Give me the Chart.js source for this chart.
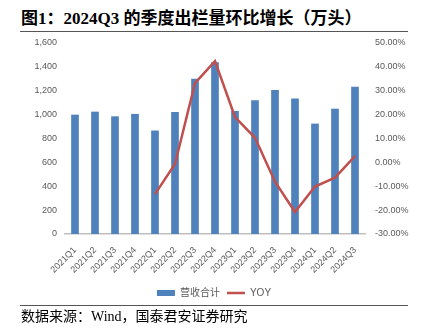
<!DOCTYPE html>
<html>
<head>
<meta charset="utf-8">
<script src="https://cdn.jsdelivr.net/npm/chart.js@4"></script>
<style>
  body { margin: 0; background: #fff; }
  #wrap { position: relative; width: 428px; height: 336px; overflow: hidden; }
  #title { position: absolute; left: 21px; top: 4px; font: bold 17px "Liberation Serif", "Noto Sans CJK SC", serif; color: #000; white-space: nowrap; }
  #src { position: absolute; left: 21px; top: 305px; font: 14px "Liberation Serif", "Noto Sans CJK SC", serif; color: #000; white-space: nowrap; }
  .rule { position: absolute; left: 20px; width: 388px; height: 1px; background: #555; }
  canvas { position: absolute; left: 0; top: 0; }
</style>
</head>
<body>
<div id="wrap">
  <div id="title">图1：2024Q3 的季度出栏量环比增长（万头）</div>
  <div class="rule" style="top:31px"></div>
  <canvas id="c" width="428" height="336"></canvas>
  <div class="rule" style="top:305px"></div>
  <div id="src">数据来源：Wind，国泰君安证券研究</div>
</div>
<script>
const quarters = ["2021Q1", "2021Q2", "2021Q3", "2021Q4", "2022Q1", "2022Q2", "2022Q3", "2022Q4",
  "2023Q1", "2023Q2", "2023Q3", "2023Q4", "2024Q1", "2024Q2", "2024Q3"];
const revenueTotal = [997, 1022, 983, 1003, 864, 1019, 1297, 1436, 1028, 1117, 1203, 1133, 922, 1047, 1231];
const yoy = [null, null, null, null, -13.3, -0.7, 33.2, 42.4, 19.0, 10.3, -8.1, -20.8, -10.1, -6.4, 2.6];

const gray = "#595959";
const tickFont = { family: "Liberation Sans", size: 9 };

const ctx = document.getElementById("c").getContext("2d");

new Chart(ctx, {
  type: "bar",
  data: {
    labels: quarters,
    datasets: [
      {
        type: "line",
        label: "YOY",
        data: yoy,
        yAxisID: "y1",
        borderColor: "#C0504D",
        backgroundColor: "#C0504D",
        borderWidth: 2.5,
        pointRadius: 0,
        tension: 0,
        pointStyle: "line",
        order: 0
      },
      {
        label: "营收合计",
        data: revenueTotal,
        yAxisID: "y",
        backgroundColor: "#4F81BD",
        barThickness: 7,
        pointStyle: "rect",
        order: 1
      }
    ]
  },
  options: {
    responsive: false,
    animation: false,
    layout: { padding: { top: 43, bottom: 28, left: 0, right: 0 } },
    plugins: {
      tooltip: { enabled: false },
      legend: {
        position: "bottom",
        reverse: true,
        labels: {
          usePointStyle: true,
          pointStyleWidth: 18,
          boxHeight: 6,
          padding: 7,
          color: gray,
          font: { family: "Liberation Sans, Noto Sans CJK SC", size: 10 }
        }
      }
    },
    scales: {
      x: {
        offset: true,
        grid: { display: false },
        border: { color: "#BFBFBF", width: 1.5 },
        ticks: { minRotation: 45, maxRotation: 45, autoSkip: false, color: gray, font: tickFont },
        afterFit(axis) { axis.height = 47; }
      },
      y: {
        position: "left",
        min: 0,
        max: 1600,
        grid: { display: false, drawTicks: false },
        border: { display: false },
        ticks: {
          stepSize: 200,
          color: gray,
          font: tickFont,
          padding: 8,
          callback: v => v.toLocaleString("en-US")
        },
        afterFit(axis) { axis.width = 65; }
      },
      y1: {
        position: "right",
        min: -30,
        max: 50,
        grid: { display: false, drawTicks: false },
        border: { display: false },
        ticks: {
          stepSize: 10,
          color: gray,
          font: tickFont,
          padding: 10,
          callback: v => v.toFixed(2) + "%"
        },
        afterFit(axis) { axis.width = 63; }
      }
    }
  }
});
</script>
</body>
</html>
